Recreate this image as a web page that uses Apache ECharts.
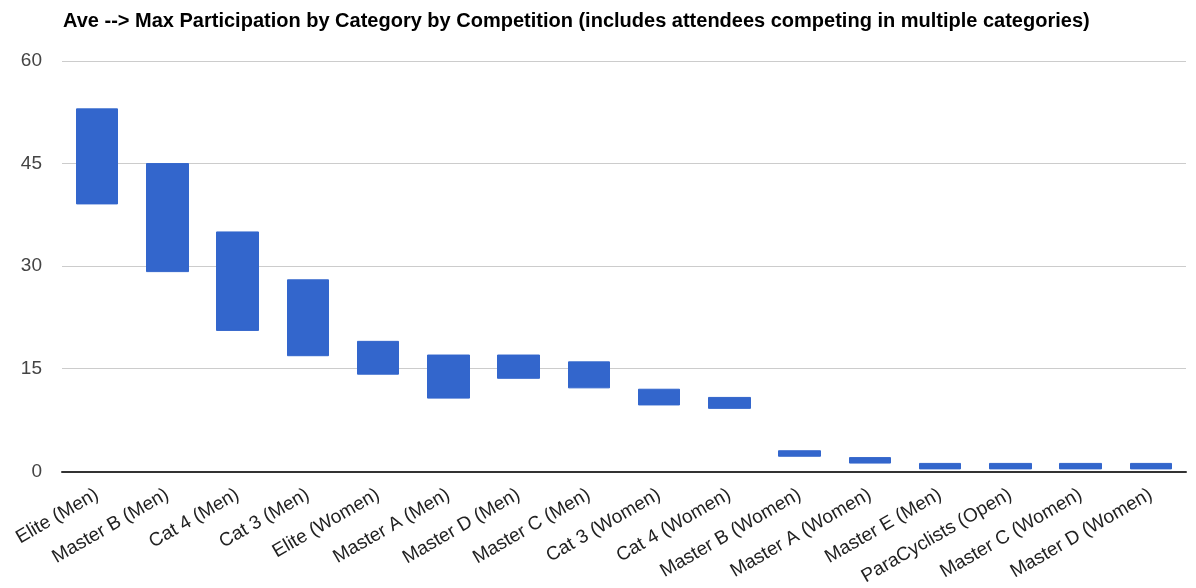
<!DOCTYPE html>
<html>
<head>
<meta charset="utf-8">
<script src="https://cdn.jsdelivr.net/npm/echarts@6/dist/echarts.min.js"></script>
<style>html,body{margin:0;padding:0;background:#fff}#c{width:1196px;height:588px}</style>
</head>
<body>
<div id="c"></div>
<script>
var categories = ["Elite (Men)","Master B (Men)","Cat 4 (Men)","Cat 3 (Men)","Elite (Women)","Master A (Men)","Master D (Men)","Master C (Men)","Cat 3 (Women)","Cat 4 (Women)","Master B (Women)","Master A (Women)","Master E (Men)","ParaCyclists (Open)","Master C (Women)","Master D (Women)"];
var aveValues = [39.1, 29.2, 20.6, 16.9, 14.2, 10.7, 13.6, 12.2, 9.7, 9.2, 2.2, 1.2, 0.35, 0.35, 0.35, 0.35];
var maxValues = [53, 45, 35, 28, 19, 17, 17, 16, 12, 10.8, 3, 2, 1.15, 1.15, 1.15, 1.15];
var yTicks = [0, 15, 30, 45, 60];

var data = categories.map(function(c, i){
  return [aveValues[i], maxValues[i], aveValues[i], maxValues[i]];
});

var chart = echarts.init(document.getElementById('c'));
chart.setOption({
  animation: false,
  title: {
    text: 'Ave --> Max Participation by Category by Competition (includes attendees competing in multiple categories)',
    left: 58, top: 6,
    textStyle: {fontFamily: 'Liberation Sans, Arial', fontSize: 20, fontWeight: 'bold', color: '#000'}
  },
  grid: {left: 62, right: 10, top: 61, bottom: 115, containLabel: false},
  xAxis: {
    type: 'category',
    data: categories,
    axisLine: {lineStyle: {color: '#333', width: 2}},
    axisTick: {show: false},
    axisLabel: {rotate: 30, fontSize: 19, color: '#222', fontFamily: 'Liberation Sans, Arial', interval: 0, margin: 22},
    splitLine: {show: false}
  },
  yAxis: {
    type: 'value',
    min: yTicks[0], max: yTicks[yTicks.length-1], interval: 15,
    axisLine: {show: false},
    axisTick: {show: false},
    axisLabel: {fontSize: 19, color: '#444', fontFamily: 'Liberation Sans, Arial', margin: 20},
    splitLine: {lineStyle: {color: '#ccc', width: 1}}
  },
  series: [{
    type: 'candlestick',
    data: data,
    barWidth: '60%',
    itemStyle: {color: '#3366cc', color0: '#3366cc', borderColor: '#3366cc', borderColor0: '#3366cc', borderWidth: 1}
  }]
});
</script>
</body>
</html>
